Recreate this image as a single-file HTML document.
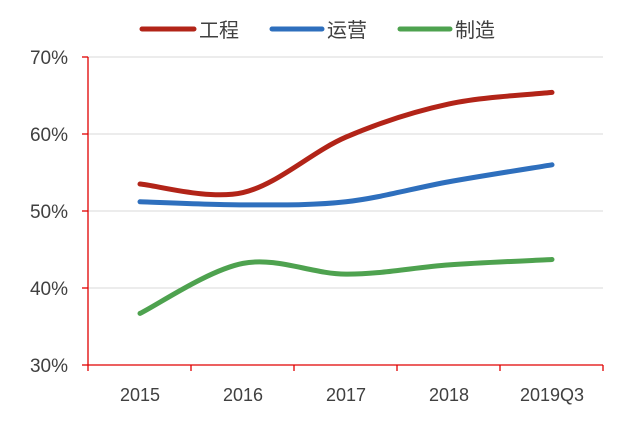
<!DOCTYPE html>
<html><head><meta charset="utf-8"><style>
html,body{margin:0;padding:0;background:#fff;}
svg{display:block;font-family:"Liberation Sans","Noto Sans CJK SC",sans-serif;}
</style></head><body>
<svg id="s" width="640" height="424" viewBox="0 0 640 424">
<g stroke="#d9d9d9" stroke-width="1">
<line x1="88" y1="57" x2="603" y2="57"/>
<line x1="88" y1="134" x2="603" y2="134"/>
<line x1="88" y1="211" x2="603" y2="211"/>
<line x1="88" y1="288" x2="603" y2="288"/>
</g>
<g stroke="#e00000" stroke-width="1.3">
<line x1="88" y1="57" x2="88" y2="365"/>
<line x1="88" y1="365" x2="603" y2="365"/>
<line x1="82" y1="57" x2="88" y2="57"/>
<line x1="82" y1="134" x2="88" y2="134"/>
<line x1="82" y1="211" x2="88" y2="211"/>
<line x1="82" y1="288" x2="88" y2="288"/>
<line x1="82" y1="365" x2="88" y2="365"/>
<line x1="88" y1="365" x2="88" y2="371"/>
<line x1="191" y1="365" x2="191" y2="371"/>
<line x1="294" y1="365" x2="294" y2="371"/>
<line x1="397" y1="365" x2="397" y2="371"/>
<line x1="500" y1="365" x2="500" y2="371"/>
<line x1="603" y1="365" x2="603" y2="371"/>
</g>
<g font-size="19" fill="#404040" text-anchor="end">
<text x="68" y="64">70%</text>
<text x="68" y="141">60%</text>
<text x="68" y="218">50%</text>
<text x="68" y="295">40%</text>
<text x="68" y="372">30%</text>
</g>
<g font-size="18" fill="#404040" text-anchor="middle">
<text x="140" y="401">2015</text>
<text x="243" y="401">2016</text>
<text x="346" y="401">2017</text>
<text x="449" y="401">2018</text>
<text x="552" y="401">2019Q3</text>
</g>
<g stroke-width="5" stroke-linecap="round">
<line x1="142" y1="29" x2="194" y2="29" stroke="#b22418"/>
<line x1="272" y1="29" x2="322" y2="29" stroke="#2e6fbd"/>
<line x1="400" y1="29" x2="450" y2="29" stroke="#4ea24f"/>
</g>
<g font-size="20" fill="#404040">
<text x="199" y="37">工程</text>
<text x="327" y="37">运营</text>
<text x="455" y="37">制造</text>
</g>
<path id="p1" fill="none" stroke="#b22418" stroke-width="5" stroke-linecap="round"/>
<path id="p2" fill="none" stroke="#2e6fbd" stroke-width="5" stroke-linecap="round"/>
<path id="p3" fill="none" stroke="#4ea24f" stroke-width="5" stroke-linecap="round"/>
</svg>
<script>
var xs=[140,243,346,449,552];
function y(v){return 365-(v-30)*7.7;}
function path(d){
 var p=xs.map(function(x,i){return [x,y(d[i])];});
 var s="M"+p[0][0]+","+p[0][1];
 for(var i=0;i<p.length-1;i++){
  var p0=p[i-1]||p[i],p1=p[i],p2=p[i+1],p3=p[i+2]||p[i+1];
  var t=1/6;
  s+=" C"+(p1[0]+(p2[0]-p0[0])*t)+","+(p1[1]+(p2[1]-p0[1])*t)+" "+(p2[0]-(p3[0]-p1[0])*t)+","+(p2[1]-(p3[1]-p1[1])*t)+" "+p2[0]+","+p2[1];
 }
 return s;
}
document.getElementById("p1").setAttribute("d",path([53.5,52.4,59.6,63.9,65.4]));
document.getElementById("p2").setAttribute("d",path([51.2,50.8,51.2,53.8,56.0]));
document.getElementById("p3").setAttribute("d",path([36.7,43.2,41.8,43.0,43.7]));
</script>
</body></html>
